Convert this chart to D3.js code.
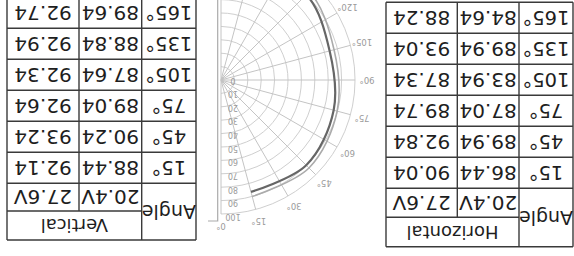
<!DOCTYPE html>
<html>
<head>
<meta charset="utf-8">
<script src="https://cdn.jsdelivr.net/npm/d3@7"></script>
<style>
  body { margin: 0; background: #fff; }
  svg { display: block; }
  text { font-family: "DejaVu Sans", sans-serif; }
</style>
</head>
<body>
<svg id="chart" width="574" height="256"></svg>
<script>
// values
const angleLabels = ["15°", "45°", "75°", "105°", "135°", "165°"];
const angleDeg = [15, 45, 75, 105, 135, 165];
const voltages = ["20.4V", "27.6V"];
const horiz204 = [86.44, 89.94, 87.04, 83.94, 89.94, 84.64];
const horiz276 = [90.04, 92.84, 89.74, 87.34, 93.04, 88.24];
const vert204 = [88.44, 90.24, 89.04, 87.64, 88.84, 89.64];
const vert276 = [92.14, 93.24, 92.64, 92.34, 92.94, 92.74];
const radialTicks = [0, 10, 20, 30, 40, 50, 60, 70, 80, 90, 100];
const spokeAngles = [0, 15, 30, 45, 60, 75, 90, 105, 120, 135, 150, 165, 180];

const W = 574, H = 256;
const svg = d3.select('#chart');

// the whole picture is upside down, so draw it upright and turn it
const root = svg.append('g')
  .attr('transform', `rotate(180, ${W / 2}, ${H / 2})`);

// ---- tables ----
function drawTable(cfg, title, a, b) {
  let g = root.append('g');
  let x = cfg.x, y = cfg.y;
  let cw = cfg.cols;             // [angle, v1, v2]
  let x1 = x + cw[0], x2 = x1 + cw[1], x3 = x2 + cw[2];
  let yH = y + cfg.h1, yB = yH + cfg.h2;
  let rowY = d3.scaleBand().domain(d3.range(angleLabels.length))
    .range([yB, yB + cfg.rowH * angleLabels.length]);
  let yEnd = rowY.range()[1];

  let lines = [
    [x, y, x3, y], [x1, yH, x3, yH], [x, yB, x3, yB],
    [x, y, x, yEnd], [x1, y, x1, yEnd],
    [x2, yH, x2, yEnd], [x3, y, x3, yEnd]
  ];
  angleLabels.forEach((d, i) => {
    let yy = rowY(i) + rowY.bandwidth();
    lines.push([x, yy, x3, yy]);
  });
  g.selectAll('line').data(lines).join('line')
    .attr('x1', d => d[0]).attr('y1', d => d[1])
    .attr('x2', d => d[2]).attr('y2', d => d[3])
    .attr('stroke', '#3a3a3a').attr('stroke-width', 1.4);

  let txt = (tx, ty, s, size) => g.append('text')
    .attr('x', tx).attr('y', ty).text(s)
    .attr('text-anchor', 'middle').attr('dominant-baseline', 'central')
    .attr('font-size', size).attr('fill', '#1e1e1e');

  txt((x + x1) / 2, (y + yB) / 2, 'Angle', 19);
  txt((x1 + x3) / 2, (y + yH) / 2, title, 18);
  txt((x1 + x2) / 2, (yH + yB) / 2, voltages[0], 20);
  txt((x2 + x3) / 2, (yH + yB) / 2, voltages[1], 20);
  angleLabels.forEach((d, i) => {
    let cy = rowY(i) + rowY.bandwidth() / 2;
    txt((x + x1) / 2, cy, d, 19.5);
    txt((x1 + x2) / 2, cy, a[i].toFixed(2), 20);
    txt((x2 + x3) / 2, cy, b[i].toFixed(2), 20);
  });
}

drawTable({x: 1, y: 9.3, cols: [54, 61.7, 71.3], h1: 29.4, h2: 29, rowH: 31},
  'Horizontal', horiz204, horiz276);
drawTable({x: 378, y: 16, cols: [54.3, 62.7, 72], h1: 29, h2: 27.7, rowH: 31},
  'Vertical', vert204, vert276);

// ---- polar plot ----
const cx = 353, cy = 176;
const r = d3.scaleLinear().domain([0, 100]).range([0, 134]);
const rad = a => a * Math.PI / 180;
// 0 deg points up, angles grow towards the left
const px = (a, v) => cx - v * Math.sin(rad(a));
const py = (a, v) => cy - v * Math.cos(rad(a));

const polar = root.append('g');

polar.selectAll('path.ring').data(radialTicks.slice(1)).join('path')
  .attr('class', 'ring')
  .attr('d', d => {
    let p = d3.path();
    p.moveTo(cx, cy - r(d));
    p.arc(cx, cy, r(d), -Math.PI / 2, Math.PI / 2, true);
    return p.toString();
  })
  .attr('fill', 'none').attr('stroke', '#cfcfcf').attr('stroke-width', 1);

polar.selectAll('line.spoke').data(spokeAngles).join('line')
  .attr('class', 'spoke')
  .attr('x1', cx).attr('y1', cy)
  .attr('x2', d => px(d, r(100))).attr('y2', d => py(d, r(100)))
  .attr('stroke', '#c4c4c4').attr('stroke-width', 1);

// axis bracket
polar.append('path')
  .attr('d', `M${cx + 13},${cy - r(100) - 7}H${cx + 3.3}V${H + 5}`)
  .attr('fill', 'none').attr('stroke', '#aaa').attr('stroke-width', 1.2);

polar.selectAll('text.rtick').data(radialTicks).join('text')
  .attr('class', 'rtick')
  .attr('x', cx - 12).attr('y', d => cy - r(d) - d * 0.025)
  .attr('text-anchor', 'middle').attr('dominant-baseline', 'central')
  .attr('font-size', 8).attr('fill', '#9a9a9a')
  .text(d => d);

// only the angle labels that land inside the frame, as in the picture
polar.selectAll('text.atick')
  .data(spokeAngles.filter(d => py(d, 146) < H - 4))
  .join('text')
  .attr('class', 'atick')
  .attr('x', d => px(d, 146)).attr('y', d => py(d, 146))
  .attr('text-anchor', 'middle').attr('dominant-baseline', 'central')
  .attr('font-size', 8.5).attr('fill', '#9a9a9a')
  .text(d => d + '°');

const curve = d3.line()
  .x(d => px(d[0], r(d[1])))
  .y(d => py(d[0], r(d[1])))
  .curve(d3.curveCatmullRom);

polar.append('path')
  .datum(angleDeg.map((a, i) => [a, horiz276[i]]))
  .attr('d', curve)
  .attr('fill', 'none').attr('stroke', '#ababab').attr('stroke-width', 1.6);

polar.append('path')
  .datum(angleDeg.map((a, i) => [a, horiz204[i]]))
  .attr('d', curve)
  .attr('fill', 'none').attr('stroke', '#666').attr('stroke-width', 2.2);
</script>
</body>
</html>
